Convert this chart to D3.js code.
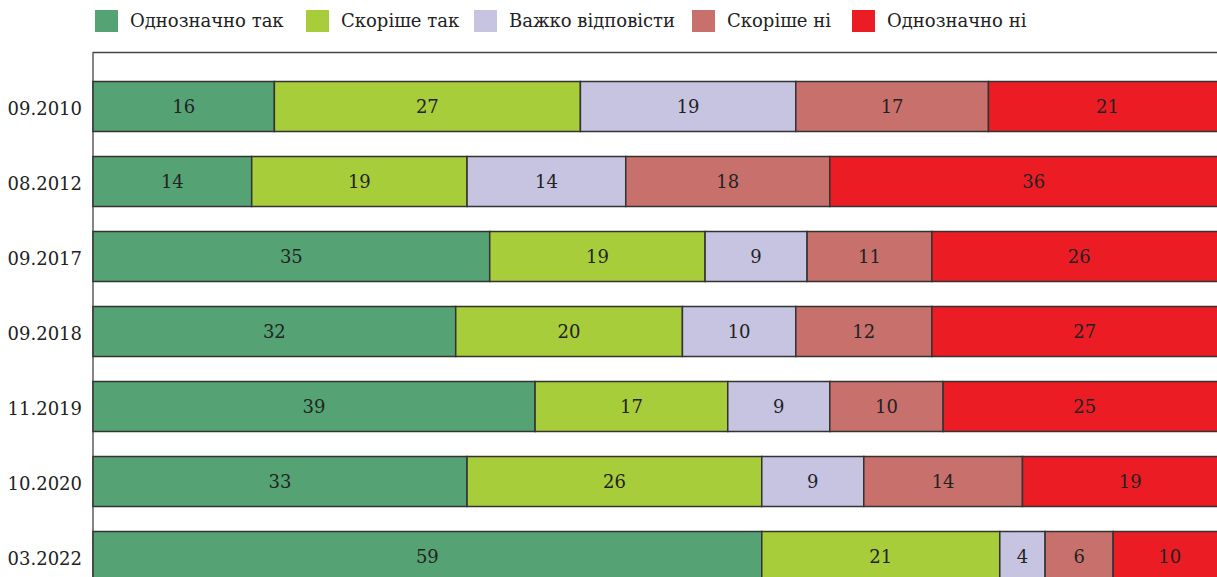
<!DOCTYPE html>
<html><head><meta charset="utf-8">
<script src="https://cdn.jsdelivr.net/npm/d3@7"></script>
<style>html,body{margin:0;padding:0;background:#fff;overflow:hidden}</style>
</head><body>
<script>
const categories = ["09.2010","08.2012","09.2017","09.2018","11.2019","10.2020","03.2022"];
const seriesNames = ["Однозначно так","Скоріше так","Важко відповісти","Скоріше ні","Однозначно ні"];
const seriesColors = ["#55a274","#a8cd3a","#c6c4e1","#c8706c","#ec1c25"];
const odnoznachnoTak = [16,14,35,32,39,33,59];
const skorisheTak    = [27,19,19,20,17,26,21];
const vazhko         = [19,14,9,10,9,9,4];
const skorisheNi     = [17,18,11,12,10,14,6];
const odnoznachnoNi  = [21,36,26,27,25,19,10];
const seriesValues = [odnoznachnoTak, skorisheTak, vazhko, skorisheNi, odnoznachnoNi];

const W = 1217, H = 577;
const font = "'DejaVu Serif', 'Liberation Serif', serif";
const svg = d3.select("body").append("svg").attr("width", W).attr("height", H)
  .style("font-family", font);

const x = d3.scaleLinear().domain([0, 100]).range([93, 1226.5]);
const y = d3.scaleBand().domain(categories).range([69, 594]).paddingInner(1/3).paddingOuter(1/6);

const rows = categories.map((c, i) => {
  const obj = {cat: c};
  seriesNames.forEach((s, j) => obj[s] = seriesValues[j][i]);
  return obj;
});
const stacked = d3.stack().keys(seriesNames)(rows);

// frame lines
svg.append("line").attr("x1", 93).attr("x2", W).attr("y1", 52.5).attr("y2", 52.5)
  .attr("stroke", "#444").attr("stroke-width", 1.3);
svg.append("line").attr("x1", 93).attr("x2", 93).attr("y1", 52).attr("y2", H)
  .attr("stroke", "#444").attr("stroke-width", 1.3);

stacked.forEach((layer, j) => {
  const g = svg.append("g");
  g.selectAll("rect").data(layer).join("rect")
    .attr("x", d => x(d[0])).attr("width", d => x(d[1]) - x(d[0]))
    .attr("y", d => y(d.data.cat)).attr("height", y.bandwidth())
    .attr("fill", seriesColors[j]).attr("stroke", "#333").attr("stroke-width", 1.5);
  g.selectAll("text").data(layer).join("text")
    .attr("x", d => (x(d[0]) + x(d[1])) / 2)
    .attr("y", d => y(d.data.cat) + y.bandwidth() / 2)
    .attr("dy", "0.36em").attr("text-anchor", "middle")
    .attr("font-size", 18).attr("fill", "#222")
    .text(d => d[1] - d[0]);
});

// y labels
svg.append("g").selectAll("text").data(categories).join("text")
  .attr("x", 82).attr("y", d => y(d) + y.bandwidth() / 2 + 2).attr("dy", "0.36em")
  .attr("text-anchor", "end").attr("font-size", 18).attr("fill", "#222").text(d => d);

// legend
const legendX = [95, 306, 474, 692, 852];
const lg = svg.append("g");
seriesNames.forEach((s, j) => {
  lg.append("rect").attr("x", legendX[j]).attr("y", 10).attr("width", 23).attr("height", 22)
    .attr("fill", seriesColors[j]);
  lg.append("text").attr("x", legendX[j] + 35).attr("y", 21).attr("dy", "0.36em")
    .attr("font-size", 18).attr("fill", "#222").text(s);
});
</script>
</body></html>
